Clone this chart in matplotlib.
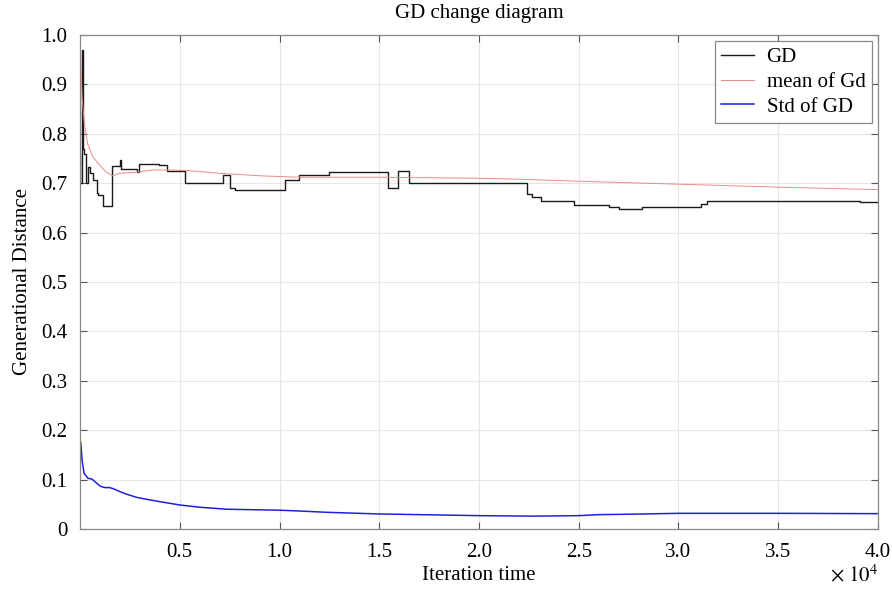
import matplotlib
matplotlib.use("Agg")
import matplotlib.pyplot as plt

plt.rcParams["font.family"] = ["Liberation Serif", "DejaVu Serif"]
plt.rcParams["mathtext.fontset"] = "stix"

# GD (step line): iteration where the value changes, and the value
gd_iter = [0, 20, 83, 134, 217, 301, 418, 480, 635, 836, 919, 1136, 1604,
           2005, 2055, 2840, 2974, 3975, 4346, 5263, 7153, 7519, 7770,
           10276, 10992, 12481, 15454, 15955, 16476, 22421, 22641, 23108,
           24777, 26531, 27017, 28155, 31128, 31413, 39098, 40000]
gd_val = [0.76, 0.70, 0.97, 0.77, 0.76, 0.70, 0.733, 0.72, 0.706, 0.680,
          0.676, 0.654, 0.735, 0.747, 0.728, 0.723, 0.739, 0.736, 0.724,
          0.700, 0.717, 0.690, 0.686, 0.706, 0.716, 0.722, 0.691, 0.725,
          0.701, 0.678, 0.672, 0.663, 0.655, 0.652, 0.648, 0.651, 0.658,
          0.663, 0.662, 0.662]

# mean of GD
mean_iter = [0, 50, 110, 220, 380, 630, 970, 1300, 1640, 2000, 2800, 3700,
             5300, 7000, 9000, 11000, 15000, 20000, 22000, 25000, 30000,
             35000, 40000]
mean_val = [1.0, 0.93, 0.87, 0.82, 0.78, 0.754, 0.737, 0.723, 0.715, 0.72,
            0.722, 0.727, 0.726, 0.72, 0.715, 0.712, 0.712, 0.710, 0.708,
            0.704, 0.698, 0.692, 0.687]

# std of GD
std_iter = [0, 40, 100, 200, 400, 600, 800, 1000, 1200, 1500, 1700, 2000,
            2350, 2840, 3350, 4000, 5000, 6000, 7350, 10000, 11000, 12400,
            15000, 20000, 22700, 25000, 26000, 27700, 30000, 35000, 40000]
std_val = [0.133, 0.175, 0.14, 0.113, 0.1026, 0.101, 0.094, 0.087, 0.084,
           0.0837, 0.081, 0.0756, 0.0702, 0.064, 0.060, 0.0553, 0.0486,
           0.044, 0.040, 0.038, 0.0364, 0.0337, 0.0304, 0.027, 0.026, 0.027,
           0.029, 0.030, 0.0317, 0.0317, 0.031]

x_ticks = [5000, 10000, 15000, 20000, 25000, 30000, 35000, 40000]
x_labels = ["0.5", "1.0", "1.5", "2.0", "2.5", "3.0", "3.5", "4.0"]
y_ticks = [0, 0.1, 0.2, 0.3, 0.4, 0.5, 0.6, 0.7, 0.8, 0.9, 1.0]
y_labels = ["0", "0.1", "0.2", "0.3", "0.4", "0.5", "0.6", "0.7", "0.8", "0.9", "1.0"]

fig = plt.figure(figsize=(8.92, 5.89), dpi=100)
ax = fig.add_axes([0.0897, 0.1019, 0.8946, 0.8387])

ax.plot(gd_iter, gd_val, drawstyle="steps-post", color="#1a1a1a", lw=1.0, label="GD")
ax.plot(mean_iter, mean_val, color="#ec8a8a", lw=0.7, label="mean of Gd")
ax.plot(std_iter, std_val, color="#1f1fe0", lw=1.1, label="Std of GD")

ax.set_xlim(0, 40000)
ax.set_ylim(0, 1.0)
ax.set_xticks(x_ticks)
ax.set_xticklabels(x_labels)
ax.set_yticks(y_ticks)
ax.set_yticklabels(y_labels)
ax.tick_params(direction="in", length=5, width=0.8, color="#555555",
               labelsize=15, top=True, right=True)
ax.tick_params(axis="x", pad=10)
ax.tick_params(axis="y", pad=9)
ax.grid(True, color="#e6e6e6", lw=0.8)
for s in ax.spines.values():
    s.set_color("#888888")
    s.set_linewidth(0.9)

ax.set_title("GD change diagram", fontsize=15, pad=12)
ax.set_xlabel("Iteration time", fontsize=15, labelpad=3)
ax.set_ylabel("Generational Distance", fontsize=15, labelpad=7)
ax.text(1.0, -0.095, r"$\times\ 10^{4}$", transform=ax.transAxes,
        ha="right", va="center", fontsize=15)

leg = ax.legend(loc="upper right", fontsize=15, fancybox=False, framealpha=1,
                edgecolor="#888888", handlelength=1.6, borderpad=0.3,
                labelspacing=0.25, handletextpad=0.6, borderaxespad=0.3)
leg.get_frame().set_linewidth(0.9)

fig.savefig("out.png", dpi=100)
